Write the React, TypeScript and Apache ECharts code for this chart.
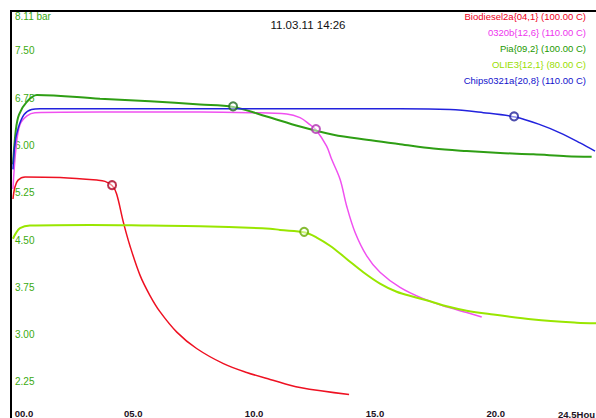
import React, { useEffect, useRef } from "react";
import * as echarts from "echarts";

// ---- data (hours, bar) ----
const biodieselData: number[][] = [
  [0.02, 5.15], [0.1, 5.34], [0.23, 5.45], [0.52, 5.5], [1.97, 5.49], [3.49, 5.45],
  [3.83, 5.43], [4.13, 5.36], [4.31, 5.23], [4.59, 4.78], [4.86, 4.41], [5.28, 3.94],
  [5.69, 3.62], [6.11, 3.36], [6.8, 3.04], [7.62, 2.78], [8.73, 2.54], [9.69, 2.4],
  [10.66, 2.29], [11.9, 2.16], [13.93, 2.05],
];
const b0320Data: number[][] = [
  [0.02, 5.31], [0.14, 5.94], [0.31, 6.33], [0.6, 6.47], [0.93, 6.52], [3.62, 6.53],
  [7.76, 6.53], [9.83, 6.52], [11.35, 6.5], [11.9, 6.44], [12.31, 6.33], [12.56, 6.25],
  [13.0, 5.99], [13.21, 5.78], [13.56, 5.46], [13.83, 5.04], [14.18, 4.62], [14.66, 4.25],
  [15.21, 3.99], [16.04, 3.75], [17.0, 3.57], [17.97, 3.44], [18.8, 3.35], [19.42, 3.28],
];
const piaData: number[][] = [
  [0.02, 5.7], [0.14, 6.25], [0.27, 6.49], [0.59, 6.69], [1.01, 6.8], [3.62, 6.74],
  [5.69, 6.7], [7.76, 6.65], [9.14, 6.61], [10.52, 6.46], [11.9, 6.3], [13.28, 6.17],
  [14.66, 6.09], [16.04, 6.02], [17.42, 5.95], [18.8, 5.91], [20.18, 5.88], [21.56, 5.86],
  [22.94, 5.83], [23.97, 5.82],
];
const olieData: number[][] = [
  [0.02, 4.52], [0.14, 4.61], [0.31, 4.69], [0.72, 4.73], [3.21, 4.74], [5.69, 4.73],
  [7.76, 4.72], [10.66, 4.68], [11.07, 4.66], [12.11, 4.62], [12.59, 4.54], [13.14, 4.41],
  [13.83, 4.2], [14.52, 3.99], [15.21, 3.81], [15.9, 3.68], [16.59, 3.6], [17.28, 3.53],
  [17.97, 3.45], [18.8, 3.38], [19.9, 3.32], [21.56, 3.24], [23.35, 3.19], [24.15, 3.18],
];
const chipsData: number[][] = [
  [0.02, 5.62], [0.1, 6.02], [0.24, 6.28], [0.48, 6.49], [0.79, 6.57], [1.14, 6.58],
  [7.76, 6.58], [16.04, 6.58], [18.11, 6.57], [19.49, 6.52], [20.8, 6.45], [21.83, 6.33],
  [22.66, 6.2], [23.49, 6.04], [24.11, 5.91],
];
const markerPoints: number[][] = [
  [4.12, 5.37], [12.56, 6.26], [9.13, 6.62], [12.07, 4.63], [20.76, 6.46],
];
const legendLabels = [
  "Biodiesel2a{04,1} (100.00 C)",
  "0320b{12,6} (110.00 C)",
  "Pia{09,2} (100.00 C)",
  "OLIE3{12,1} (80.00 C)",
  "Chips0321a{20,8} (110.00 C)",
];
const yTickValues = [2.25, 3.0, 3.75, 4.5, 5.25, 6.0, 6.75, 7.5, 8.11];
const xTickValues = [0, 5, 10, 15, 20];
const xEndLabel = "24.5Hou";
const titleText = "11.03.11 14:26";

const lineColors = ["#ee1122", "#f050f0", "#2e9e14", "#99e600", "#2222dd"];
const markerColors = ["#aa0022", "#b030b0", "#1f6a1f", "#66aa00", "#222299"];
const legendColors = ["#ee0022", "#ee33ee", "#229900", "#99dd00", "#1111cc"];

const FONT = "Liberation Sans, Arial, sans-serif";

export default function App() {
  const ref = useRef<HTMLDivElement>(null);
  useEffect(() => {
    document.body.style.margin = "0";
    const chart = echarts.init(ref.current!, undefined, { renderer: "svg" });
    const datasets = [biodieselData, b0320Data, piaData, olieData, chipsData];
    const lineSeries = datasets.map((d, i) => ({
      type: "line",
      data: d,
      showSymbol: false,
      smooth: 0.35,
      lineStyle: { color: lineColors[i], width: i === 2 || i === 3 ? 2 : 1.5 },
      z: 2,
    }));
    const markerSeries = markerPoints.map((p, i) => ({
      type: "scatter",
      data: [p],
      symbol: "circle",
      symbolSize: 8,
      itemStyle: { color: "rgba(255,255,255,0.6)", borderColor: markerColors[i], borderWidth: 2 },
      z: 5,
    }));
    chart.setOption({
      animation: false,
      backgroundColor: "#ffffff",
      grid: { left: 12.5, right: 0, top: 12.37, bottom: 12.4 },
      xAxis: {
        type: "value",
        min: 0,
        max: 24.15,
        axisLine: { show: false },
        axisTick: { show: false },
        splitLine: { show: false },
        axisLabel: {
          customValues: xTickValues,
          margin: 4,
          fontSize: 9.5,
          fontWeight: "bold",
          fontFamily: FONT,
          color: "#221122",
          formatter: (v: number) => {
            const s = (v < 10 ? "0" : "") + v.toFixed(1);
            return v === 0 ? "{first|" + s + "}" : s;
          },
          rich: {
            first: {
              padding: [0, 0, 0, 23],
              fontSize: 9.5,
              fontWeight: "bold",
              fontFamily: FONT,
              color: "#221122",
            },
          },
        },
      },
      yAxis: {
        type: "value",
        min: 1.9,
        max: 8.11,
        axisLine: { show: false },
        axisTick: { show: false },
        splitLine: { show: false },
        axisLabel: {
          inside: true,
          customValues: yTickValues,
          margin: 2.5,
          fontSize: 10,
          fontFamily: FONT,
          color: "#3aaa10",
          formatter: (v: number) => (v === 8.11 ? "{top|8.11 bar}" : v.toFixed(2)),
          rich: {
            top: { padding: [8, 0, 0, 0], fontSize: 10, fontFamily: FONT, color: "#3aaa10" },
          },
        },
      },
      graphic: [
        { type: "rect", shape: { x: 10, y: 10, width: 586, height: 2 }, style: { fill: "#000" }, z: 10 },
        { type: "rect", shape: { x: 10, y: 10, width: 2, height: 408 }, style: { fill: "#000" }, z: 10 },
        {
          type: "text",
          x: 308,
          y: 24.5,
          style: {
            text: titleText,
            fill: "#111",
            font: "11.5px " + FONT,
            textAlign: "center",
            textVerticalAlign: "middle",
          },
        },
        ...legendLabels.map((t, i) => ({
          type: "text",
          x: 586,
          y: [16.7, 32.7, 48.7, 64.3, 80][i],
          style: {
            text: t,
            fill: legendColors[i],
            font: "9.5px " + FONT,
            textAlign: "right",
            textVerticalAlign: "middle",
          },
        })),
        {
          type: "text",
          x: 595,
          y: 414,
          style: {
            text: xEndLabel,
            fill: "#221122",
            font: "bold 9.5px " + FONT,
            textAlign: "right",
            textVerticalAlign: "middle",
          },
        },
      ],
      series: [...lineSeries, ...markerSeries],
    });
    return () => chart.dispose();
  }, []);
  return (
    <div
      ref={ref}
      style={{ position: "fixed", left: 0, top: 0, width: 596, height: 418, background: "#fff" }}
    />
  );
}
